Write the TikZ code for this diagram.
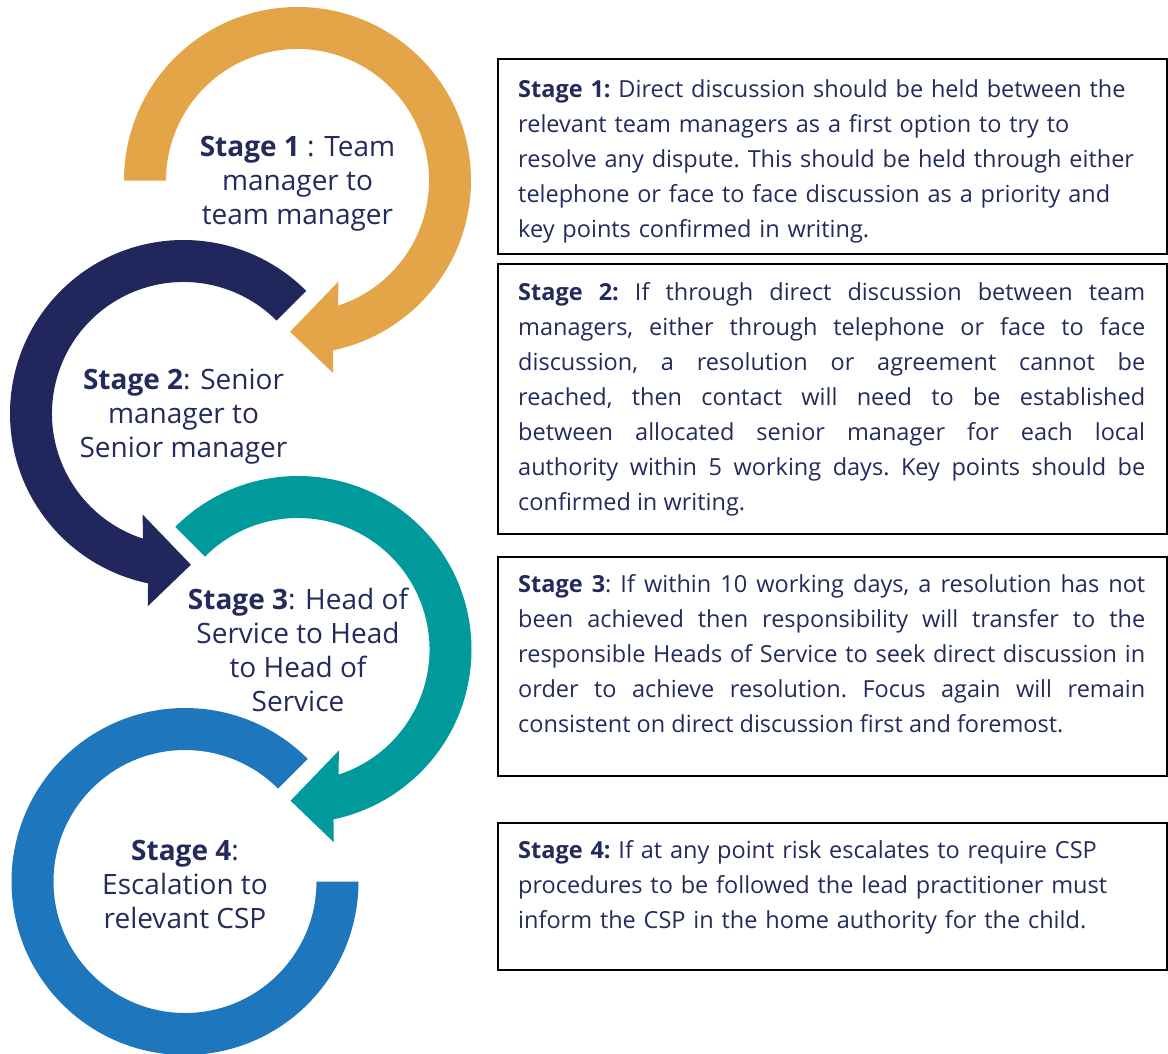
\documentclass[tikz,border=0pt]{standalone}
\usepackage{fontspec}
\setmainfont{Open Sans}
\usetikzlibrary{positioning}
\definecolor{stageorange}{RGB}{227,165,72}
\definecolor{stagenavy}{RGB}{33,39,92}
\definecolor{stageteal}{RGB}{0,154,157}
\definecolor{stageblue}{RGB}{30,118,188}
\definecolor{textnavy}{RGB}{35,42,92}

\tikzset{
  stagelabel/.style={align=center,text=textnavy,inner sep=0pt,font=\fontsize{28}{34}\selectfont},
  stagebox/.style={draw=black,line width=1.8pt,minimum width=669pt,anchor=north west,inner sep=0pt},
  stagetext/.style={text=textnavy,inner sep=0pt,text width=627pt,font=\fontsize{23.5}{35}\selectfont\frenchspacing},
}

\begin{document}
\begin{tikzpicture}[x=1pt,y=1pt]

\useasboundingbox (0,0) rectangle (1168,-1053);

% Ring centres
\coordinate (c1) at (297.5,-180.5);
\coordinate (c2) at (183.5,-413.5);
\coordinate (c3) at (298,-649.5);
\coordinate (c4) at (185,-881.5);

% Stage labels (inside each ring)
\node[stagelabel] (s1) at ([yshift=-3pt]c1) {\textbf{Stage 1} : Team\\manager to\\team manager};
\node[stagelabel] (s2) at ([yshift=-3pt]c2) {\textbf{Stage 2}: Senior\\manager to\\Senior manager};
\node[stagelabel] (s3) at (c3) {\textbf{Stage 3}: Head of\\Service to Head\\to Head of\\Service};
\node[stagelabel] (s4) at ([yshift=-3pt]c4) {\textbf{Stage 4}:\\Escalation to\\relevant CSP};

% Stage 1 ring, clockwise
\fill[stageorange,shift={(c1)}] (180:173.5) arc[start angle=180,end angle=-78.2,radius=173.5]
  -- (-79.5:196) -- (-92.8:151.4) -- (-68:109) -- (-72:131.5)
  arc[start angle=-72,end angle=180,radius=131.5] -- cycle;

% Stage 2 ring, anticlockwise
\fill[stagenavy,shift={(c2)}] (45:173.5) arc[start angle=45,end angle=258.2,radius=173.5]
  -- (259.5:196) -- (272.8:151.4) -- (248:109) -- (252:131.5)
  arc[start angle=252,end angle=45,radius=131.5] -- cycle;

% Stage 3 ring, clockwise
\fill[stageteal,shift={(c3)}] (135:173.5) arc[start angle=135,end angle=-78.2,radius=173.5]
  -- (-79.5:196) -- (-92.8:151.4) -- (-68:109) -- (-72:131.5)
  arc[start angle=-72,end angle=135,radius=131.5] -- cycle;

% Stage 4 ring, no arrow
\fill[stageblue,shift={(c4)}] (45:173.5) arc[start angle=45,end angle=360,radius=173.5]
  -- (0:131.5) arc[start angle=360,end angle=45,radius=131.5] -- cycle;

% Boxes
\node[stagebox,minimum height=195pt] (f1) at (497,-58) {};
\node[stagebox,minimum height=270pt] (f2) at (497,-263) {};
\node[stagebox,minimum height=219pt] (f3) at (497,-556) {};
\node[stagebox,minimum height=147pt] (f4) at (497,-822) {};

% Box texts
\node[stagetext,align=left,below right=21pt and 21pt of f1.north west] (d1) {\textbf{Stage 1:} Direct discussion should be held between the\\relevant team managers as a first option to try to\\resolve any dispute. This should be held through either\\telephone or face to face discussion as a priority and\\key points confirmed in writing.};

\node[stagetext,align=justify,below right=19pt and 21pt of f2.north west] (d2) {\textbf{Stage 2:} If through direct discussion between team\linebreak managers, either through telephone or face to face\linebreak discussion, a resolution or agreement cannot be\linebreak reached, then contact will need to be established\linebreak between allocated senior manager for each local\linebreak authority within 5 working days. Key points should be\linebreak confirmed in writing.};

\node[stagetext,align=justify,below right=18pt and 21pt of f3.north west] (d3) {\textbf{Stage 3}: If within 10 working days, a resolution has not\linebreak been achieved then responsibility will transfer to the\linebreak responsible Heads of Service to seek direct discussion in\linebreak order to achieve resolution. Focus again will remain\linebreak consistent on direct discussion first and foremost.};

\node[stagetext,align=left,below right=18pt and 21pt of f4.north west] (d4) {\textbf{Stage 4:} If at any point risk escalates to require CSP\\procedures to be followed the lead practitioner must\\inform the CSP in the home authority for the child.};

\end{tikzpicture}
\end{document}
